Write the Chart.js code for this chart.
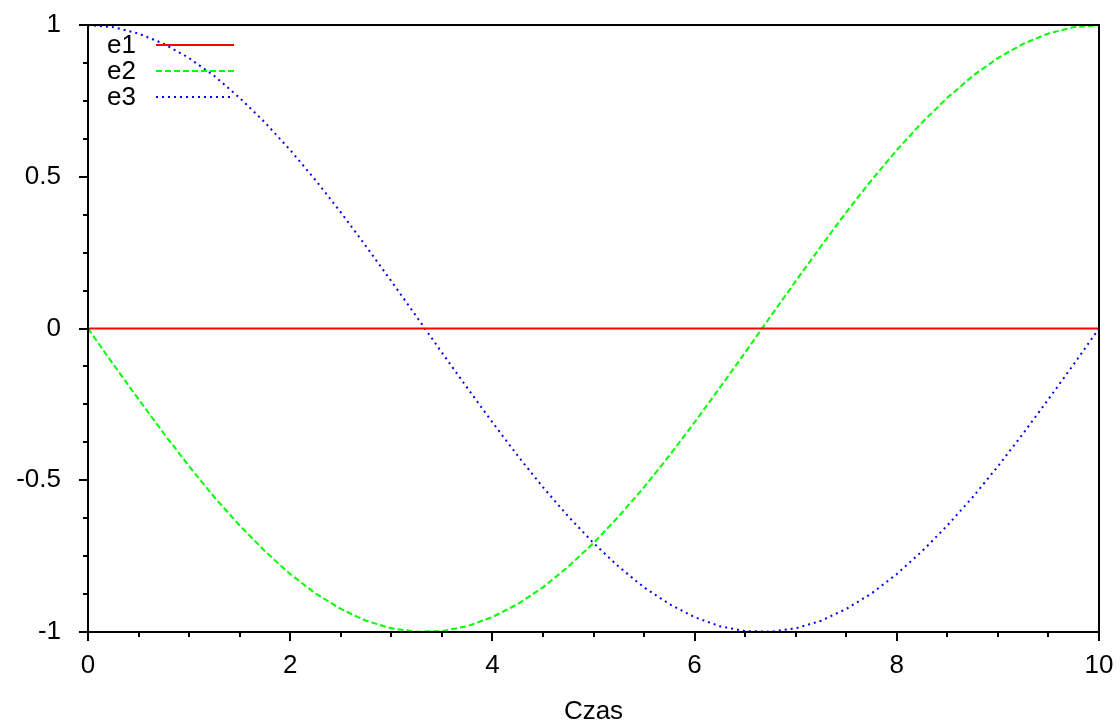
<!DOCTYPE html>
<html>
<head>
<meta charset="utf-8">
<title>e1 e2 e3</title>
<script src="https://cdn.jsdelivr.net/npm/chart.js@4.4.1/dist/chart.umd.min.js"></script>
<style>
  html, body { margin: 0; padding: 0; background: #fff; }
  #wrap { width: 1120px; height: 724px; }
</style>
</head>
<body>
<div id="wrap"><canvas id="wykres"></canvas></div>
<script>
// czas symulacji
const czas = [0, 0.25, 0.5, 0.75, 1, 1.25, 1.5, 1.75, 2, 2.25, 2.5, 2.75, 3, 3.25, 3.5, 3.75,
  4, 4.25, 4.5, 4.75, 5, 5.25, 5.5, 5.75, 6, 6.25, 6.5, 6.75, 7, 7.25, 7.5, 7.75,
  8, 8.25, 8.5, 8.75, 9, 9.25, 9.5, 9.75, 10];

const e1 = [0, 0, 0, 0, 0, 0, 0, 0, 0, 0, 0, 0, 0, 0, 0, 0, 0, 0, 0, 0, 0,
  0, 0, 0, 0, 0, 0, 0, 0, 0, 0, 0, 0, 0, 0, 0, 0, 0, 0, 0, 0];

const e2 = [0, -0.118, -0.233, -0.346, -0.454, -0.556, -0.649, -0.734, -0.809, -0.873,
  -0.924, -0.963, -0.988, -0.999, -0.997, -0.981, -0.951, -0.908, -0.853, -0.785,
  -0.707, -0.619, -0.523, -0.419, -0.309, -0.195, -0.079, 0.039, 0.156, 0.271,
  0.383, 0.489, 0.588, 0.679, 0.760, 0.832, 0.891, 0.938, 0.972, 0.993, 1];

const e3 = [1, 0.993, 0.972, 0.938, 0.891, 0.832, 0.760, 0.679, 0.588, 0.489,
  0.383, 0.271, 0.156, 0.039, -0.079, -0.195, -0.309, -0.419, -0.523, -0.619,
  -0.707, -0.785, -0.853, -0.908, -0.951, -0.981, -0.997, -0.999, -0.988, -0.963,
  -0.924, -0.873, -0.809, -0.734, -0.649, -0.556, -0.454, -0.346, -0.233, -0.118, 0];

const xGlowne = [0, 2, 4, 6, 8, 10];
const xPomocnicze = [0.5, 1, 1.5, 2.5, 3, 3.5, 4.5, 5, 5.5, 6.5, 7, 7.5, 8.5, 9, 9.5];
const yGlowne = [-1, -0.5, 0, 0.5, 1];
const yPomocnicze = [-0.875, -0.75, -0.625, -0.375, -0.25, -0.125,
  0.125, 0.25, 0.375, 0.625, 0.75, 0.875];

const nazwy = ['e1', 'e2', 'e3'];
const kolory = ['#ff0000', '#00ff00', '#0000ff'];
const kreski = [[], [6, 3], [2, 4]];

const FONT = 'Liberation Sans, Arial, sans-serif';
const ROZMIAR = 26;

const punkty = (ys) => czas.map((t, i) => ({ x: t, y: ys[i] }));

// ramka wykresu + znaczniki osi (glowne i pomocnicze, na zewnatrz)
const ramka = {
  id: 'ramka',
  afterDraw(chart) {
    const { ctx, chartArea: a, scales } = chart;
    ctx.save();
    ctx.strokeStyle = '#000';
    ctx.lineWidth = 2;
    ctx.strokeRect(a.left, a.top, a.right - a.left, a.bottom - a.top);
    ctx.beginPath();
    xGlowne.forEach(v => {
      const px = Math.round(scales.x.getPixelForValue(v));
      ctx.moveTo(px, a.bottom); ctx.lineTo(px, a.bottom + 9);
    });
    xPomocnicze.forEach(v => {
      const px = Math.round(scales.x.getPixelForValue(v));
      ctx.moveTo(px, a.bottom); ctx.lineTo(px, a.bottom + 5);
    });
    yGlowne.forEach(v => {
      const py = Math.round(scales.y.getPixelForValue(v));
      ctx.moveTo(a.left, py); ctx.lineTo(a.left - 9, py);
    });
    yPomocnicze.forEach(v => {
      const py = Math.round(scales.y.getPixelForValue(v));
      ctx.moveTo(a.left, py); ctx.lineTo(a.left - 5, py);
    });
    ctx.stroke();
    ctx.restore();
  }
};

// legenda w stylu gnuplota: nazwa, a za nia probka linii
const legenda = {
  id: 'legenda',
  afterDatasetsDraw(chart) {
    const { ctx } = chart;
    ctx.save();
    ctx.font = ROZMIAR + 'px ' + FONT;
    ctx.fillStyle = '#000';
    ctx.textBaseline = 'middle';
    ctx.textAlign = 'left';
    nazwy.forEach((n, i) => {
      const y = 45 + i * 26;
      ctx.fillText(n, 107, y + 1);
      ctx.beginPath();
      ctx.strokeStyle = kolory[i];
      ctx.lineWidth = 2;
      ctx.setLineDash(kreski[i]);
      ctx.moveTo(156, y);
      ctx.lineTo(234, y);
      ctx.stroke();
    });
    ctx.restore();
  }
};

new Chart(document.getElementById('wykres'), {
  type: 'line',
  data: {
    datasets: nazwy.map((n, i) => ({
      label: n,
      data: punkty([e1, e2, e3][i]),
      borderColor: kolory[i],
      borderWidth: 2,
      borderDash: kreski[i],
      pointRadius: 0,
      tension: 0,
      fill: false
    }))
  },
  options: {
    responsive: true,
    maintainAspectRatio: false,
    animation: false,
    events: [],
    layout: { padding: { top: 25, right: 21, left: 0, bottom: 0 } },
    plugins: {
      legend: { display: false },
      tooltip: { enabled: false }
    },
    scales: {
      x: {
        type: 'linear',
        min: 0,
        max: 10,
        grid: { display: false, drawTicks: false },
        border: { display: false },
        ticks: { stepSize: 2, padding: 18, maxRotation: 0, color: '#000', font: { family: FONT, size: ROZMIAR } },
        title: { display: true, text: 'Czas', color: '#000', font: { family: FONT, size: ROZMIAR }, padding: { top: 0, bottom: -3 } },
        afterFit: (s) => { s.height = 92; s.paddingLeft = 0; s.paddingRight = 0; }
      },
      y: {
        min: -1,
        max: 1,
        grid: { display: false, drawTicks: false },
        border: { display: false },
        ticks: {
          stepSize: 0.5, padding: 27, color: '#000', font: { family: FONT, size: ROZMIAR },
          callback: (v) => String(v)
        },
        afterFit: (s) => { s.width = 88; s.paddingTop = 0; s.paddingBottom = 0; }
      }
    }
  },
  plugins: [ramka, legenda]
});
</script>
</body>
</html>
